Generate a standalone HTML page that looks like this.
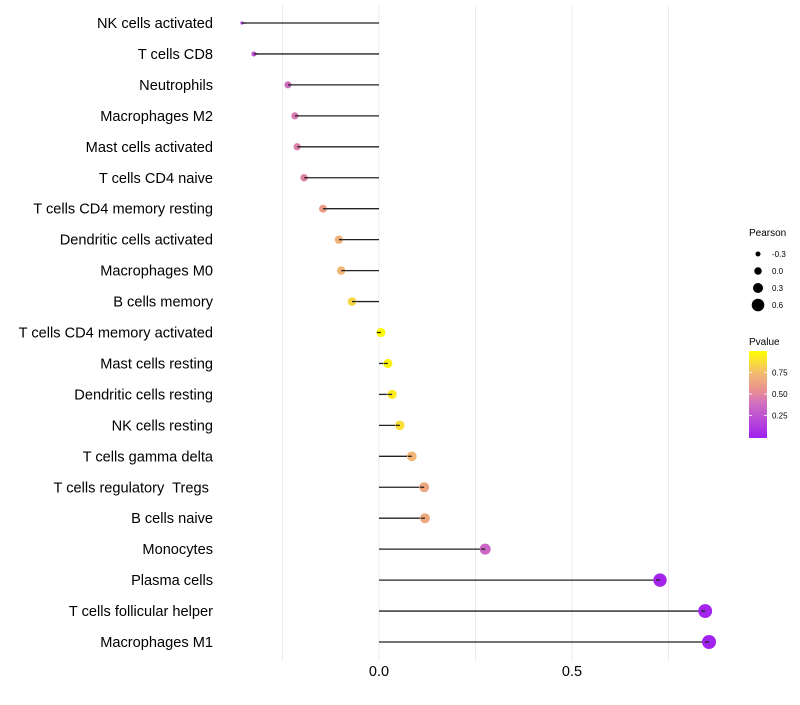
<!DOCTYPE html>
<html><head><meta charset="utf-8"><style>
body{margin:0;background:#fff;font-family:"Liberation Sans",sans-serif;}
svg text{font-family:"Liberation Sans",sans-serif;white-space:pre;}
</style></head><body>
<svg id="chart" width="800" height="700" xmlns="http://www.w3.org/2000/svg">
<defs><linearGradient id="pg" x1="0" y1="1" x2="0" y2="0">
<stop offset="0" stop-color="#A020F0"/><stop offset="0.4" stop-color="#D070C0"/><stop offset="0.55" stop-color="#E99090"/><stop offset="0.75" stop-color="#F3BC6F"/><stop offset="1" stop-color="#FFFF00"/>
</linearGradient></defs>
<g id="grid"></g><g id="marks"></g><g id="labels"></g>
<g>
<text x="749" y="236" font-size="10" fill="#000">Pearson</text>
<g id="sizeleg"></g>
</g>
<g>
<text x="749" y="345" font-size="10" fill="#000">Pvalue</text>
<rect x="749" y="351" width="18" height="87" fill="url(#pg)"/>
<g id="colleg"></g>
</g>
</svg>
<script>
const categories=["NK cells activated","T cells CD8","Neutrophils","Macrophages M2","Mast cells activated","T cells CD4 naive","T cells CD4 memory resting","Dendritic cells activated","Macrophages M0","B cells memory","T cells CD4 memory activated","Mast cells resting","Dendritic cells resting","NK cells resting","T cells gamma delta","T cells regulatory  Tregs ","B cells naive","Monocytes","Plasma cells","T cells follicular helper","Macrophages M1"];
const pearson=[-0.355,-0.324,-0.236,-0.218,-0.212,-0.194,-0.145,-0.104,-0.098,-0.070,0.005,0.023,0.034,0.054,0.085,0.117,0.119,0.275,0.728,0.845,0.855];
const pvalue=[0.2,0.25,0.38,0.45,0.47,0.48,0.6,0.7,0.72,0.85,0.98,0.95,0.92,0.88,0.72,0.65,0.66,0.35,0.03,0.02,0.01];
const xTicks=[0,0.5];
const xGrid=[-0.25,0,0.25,0.5,0.75];
const sizeLegend=[-0.3,0,0.3,0.6];
const colorTicks=[0.25,0.5,0.75];

const NS="http://www.w3.org/2000/svg";
const x=v=>379+v*386;
const y=i=>23+i*30.95;
const rk=[[-0.36,1.5],[-0.324,2.5],[-0.236,3.5],[-0.1,4.2],[0,4.5],[0.12,5],[0.275,5.5],[0.73,6.7],[0.86,7]];
function rad(v){if(v<=rk[0][0])return rk[0][1];for(let k=1;k<rk.length;k++){if(v<=rk[k][0]){const a=rk[k-1],b=rk[k];return a[1]+(b[1]-a[1])*(v-a[0])/(b[0]-a[0]);}}return 7;}
const lr=v=>2.5+(v+0.3)*4.2;
const stops=[[0,[160,32,240]],[0.4,[208,112,192]],[0.55,[233,144,144]],[0.75,[243,188,111]],[1,[255,255,0]]];
function col(p){for(let k=1;k<stops.length;k++){if(p<=stops[k][0]){const a=stops[k-1],b=stops[k],t=(p-a[0])/(b[0]-a[0]);return 'rgb('+a[1].map((c,j)=>Math.round(c+(b[1][j]-c)*t)).join(',')+')';}}return 'rgb(255,255,0)';}
function mk(tag,attrs,parent){const e=document.createElementNS(NS,tag);for(const k in attrs)e.setAttribute(k,attrs[k]);parent.appendChild(e);return e;}
const grid=document.getElementById('grid'),marks=document.getElementById('marks'),labels=document.getElementById('labels');
xGrid.forEach(v=>{const l=mk('line',{x1:x(v),x2:x(v),y1:5,y2:660,stroke:'#ebebeb','stroke-width':1},grid);

});
xTicks.forEach(v=>{const t=mk('text',{x:x(v),y:676,'font-size':14.5,'text-anchor':'middle',fill:'#000'},labels);t.textContent=v.toFixed(1);

});
categories.forEach((c,i)=>{
const t=mk('text',{x:213,y:y(i)+5,'font-size':14.6,'text-anchor':'end',fill:'#000'},labels);t.textContent=c;


const l=mk('line',{x1:x(0),x2:x(pearson[i]),y1:y(i),y2:y(i),stroke:'#222','stroke-width':1.3},marks);


const d=mk('circle',{cx:x(pearson[i]),cy:y(i),r:rad(pearson[i]),fill:col(pvalue[i])},marks);


const l2=mk('line',{x1:x(pearson[i]),x2:x(pearson[i])+(pearson[i]<0?4:-4),y1:y(i),y2:y(i),stroke:'#222','stroke-width':1.3},marks);


});
const sl=document.getElementById('sizeleg');
sizeLegend.forEach((v,k)=>{const cy=254+k*17;
const c=mk('circle',{cx:758,cy:cy,r:lr(v),fill:'#000'},sl);


const t=mk('text',{x:772,y:cy+3,'font-size':8,fill:'#000'},sl);t.textContent=v.toFixed(1);

});
const cl=document.getElementById('colleg');
colorTicks.forEach(v=>{const cy=437-v*86;
mk('line',{x1:749,x2:752,y1:cy,y2:cy,stroke:'#fff','stroke-width':0.8},cl);
mk('line',{x1:764,x2:767,y1:cy,y2:cy,stroke:'#fff','stroke-width':0.8},cl);
const t=mk('text',{x:772,y:cy+3,'font-size':8,fill:'#000'},cl);t.textContent=v.toFixed(2);

});
</script>
</body></html>
